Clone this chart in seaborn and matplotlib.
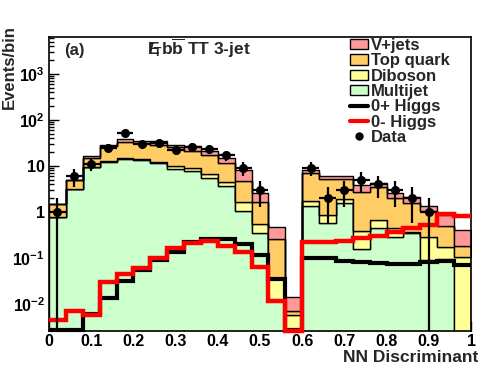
import numpy as np
import pandas as pd
import matplotlib
matplotlib.use("Agg")
import matplotlib.pyplot as plt
from matplotlib.patches import Patch
from matplotlib.lines import Line2D
from matplotlib.ticker import MultipleLocator, LogLocator, NullFormatter
import seaborn as sns

# NN output binning: 25 bins of 0.04
bin_edges = np.linspace(0, 1, 26)
bin_centers = 0.5 * (bin_edges[:-1] + bin_edges[1:])

processes = ["V+jets", "Top quark", "Diboson", "Multijet"]
colors = ["#ff9999", "#ffcc66", "#ffff99", "#ccffcc"]

# per-process expected events per bin
multijet = [0.79, 3.1, 9.3, 12.4, 14.4, 13.5, 11.8, 8.6, 7.8, 5.4, 3.67, 1.05, 0.344,
            0.012, 0.0, 1.37, 0.57, 1.59, 0.155, 0.456, 0.28, 0.355, 0.09, 0.095, 0.0]
diboson = [0.0, 0.02, 0.3, 0.4, 0.4, 0.4, 0.4, 1.1, 1.1, 1.3, 0.83, 0.6, 0.196,
           0.025, 0.0058, 0.34, 0.29, 0.3, 0.231, 0.214, 0.16, 0.005, 0.19, 0.075, 0.104]
top_quark = [0.66, 1.78, 5.3, 14.7, 18.4, 18.1, 15.8, 15.8, 12.3, 10.6, 6.9, 3.15, 1.13,
             0.218, 0.0013, 5.19, 4.28, 3.25, 2.37, 2.77, 1.61, 1.23, 0.77, 0.33, 0.076]
vjets = [0.02, 0.05, 1.6, 1.1, 4.8, 3.5, 7.4, 3.1, 6.0, 3.9, 3.3, 3.4, 0.96,
         0.21, 0.007, 1.2, 0.92, 0.92, 1.1, 0.9, 0.58, 0.5, 0.3, 0.36, 0.23]

data_counts = np.array([1, 6, 11, 25, 51, 30, 32, 22, 26, 23, 17, 9, 3,
                        0, 0, 9, 2, 3, 5, 4, 3, 2, 1, 0, 0])

higgs_0plus = [0.0027, 0.0027, 0.006, 0.0133, 0.031, 0.0535, 0.088, 0.137, 0.226, 0.259,
               0.252, 0.197, 0.118, 0.0344, 0.0027, 0.101, 0.099, 0.085, 0.082, 0.077,
               0.073, 0.073, 0.082, 0.085, 0.069]
higgs_0minus = [0.0045, 0.0072, 0.0059, 0.0296, 0.0438, 0.0617, 0.101, 0.161, 0.212, 0.231,
                0.182, 0.135, 0.065, 0.0118, 0.0026, 0.22, 0.22, 0.234, 0.268, 0.305,
                0.373, 0.442, 0.53, 0.896, 0.806]

sns.set_style("ticks")
plt.rcParams["font.family"] = ["Liberation Sans", "DejaVu Sans"]
plt.rcParams["font.weight"] = "bold"
plt.rcParams["mathtext.fontset"] = "custom"
plt.rcParams["mathtext.rm"] = "Liberation Sans:bold"
plt.rcParams["mathtext.bf"] = "Liberation Sans:bold"
plt.rcParams["mathtext.it"] = "Liberation Sans:bold:italic"

fig, ax = plt.subplots(figsize=(4.96, 3.72), dpi=100)
fig.subplots_adjust(left=49 / 496, right=471 / 496, bottom=41 / 372, top=335 / 372)

df = pd.DataFrame({
    "nn": np.tile(bin_centers, len(processes)),
    "events": np.concatenate([vjets, top_quark, diboson, multijet]),
    "process": np.repeat(processes, len(bin_centers)),
})
sns.histplot(data=df, x="nn", weights="events", hue="process", hue_order=processes,
             multiple="stack", bins=list(bin_edges), element="step",
             palette=dict(zip(processes, colors)), alpha=1,
             edgecolor="black", linewidth=1, legend=False, ax=ax)

ax.set_yscale("log")

# signal templates as thick step lines
ax.stairs(higgs_0plus, bin_edges, baseline=None, color="black", lw=3, zorder=3, clip_on=False)
ax.stairs(higgs_0minus, bin_edges, baseline=None, color="red", lw=3.2, zorder=4, clip_on=False)

# data with sqrt(N) errors, empty bins not drawn
mask = data_counts > 0
half_width = np.diff(bin_edges)[mask] / 2
ax.errorbar(bin_centers[mask], data_counts[mask], xerr=half_width,
            yerr=np.sqrt(data_counts[mask]), fmt="o", color="black", ms=5.5,
            elinewidth=1.6, capsize=0, zorder=6)

ax.set_xlim(0, 1)
ax.set_ylim(0.00259, 6280)
ax.set_xlabel("")
ax.set_ylabel("")

ax.set_xticks(np.arange(0, 1.01, 0.1), labels=["0", "0.1", "0.2", "0.3", "0.4", "0.5",
                                                "0.6", "0.7", "0.8", "0.9", "1"])
ax.xaxis.set_minor_locator(MultipleLocator(0.02))
ax.set_yticks([1e-2, 1e-1, 1, 10, 1e2, 1e3],
              labels=[r"$10^{-2}$", r"$10^{-1}$", "1", "10", r"$10^{2}$", r"$10^{3}$"])
ax.yaxis.set_minor_locator(LogLocator(base=10, subs=np.arange(2, 10), numticks=20))
ax.yaxis.set_minor_formatter(NullFormatter())

ax.tick_params(axis="both", which="both", direction="in", top=False, right=False,
               width=1, labelsize=11.5, colors="black")
ax.tick_params(axis="both", which="major", length=7)
ax.tick_params(axis="both", which="minor", length=3.6)
ax.tick_params(axis="x", pad=2)
ax.tick_params(axis="y", pad=3)
for side in ax.spines.values():
    side.set_visible(True)
    side.set_linewidth(1.2)
    side.set_color("black")

fig.text(9 / 496, 1 - 25 / 372, "Events/bin", rotation=90, ha="center", va="top", fontsize=12)
fig.text(478 / 496, 1 - 358 / 372, "NN Discriminant", ha="right", va="center", fontsize=12.5)
fig.text(64 / 496, 1 - 50 / 372, "(a)", ha="left", va="center", fontsize=12)
fig.text(147 / 496, 1 - 48 / 372,
         r"$\mathrm{E}\!\!\!\!/_{\mathrm{T}}\mathrm{b}\overline{\mathrm{b}}$ TT 3-jet",
         ha="left", va="center", fontsize=12.5)

handles = [Patch(facecolor=c, edgecolor="black", lw=1) for c in colors]
handles += [Line2D([], [], color="black", lw=3),
            Line2D([], [], color="red", lw=3),
            Line2D([], [], color="black", marker="o", ls="none", ms=5)]
labels = processes + ["0+ Higgs", "0- Higgs", "Data"]
ax.legend(handles, labels, loc="upper left", bbox_to_anchor=(350 / 496, 1 - 38 / 372),
          bbox_transform=fig.transFigure, frameon=False, fontsize=12,
          handlelength=1.1, handleheight=0.6, handletextpad=0.15,
          labelspacing=0.02, borderpad=0, borderaxespad=0)

plt.savefig("out.png", dpi=100)
plt.close()
